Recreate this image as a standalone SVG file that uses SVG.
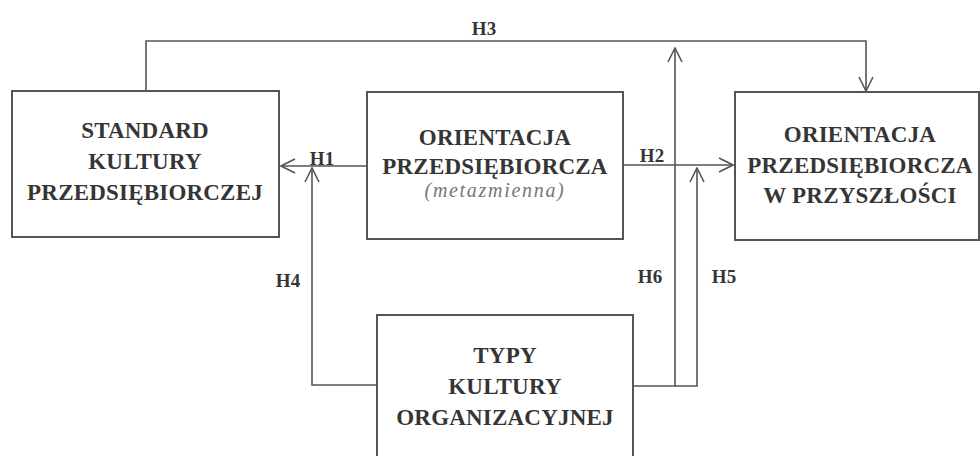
<svg xmlns="http://www.w3.org/2000/svg" width="980" height="456" viewBox="0 0 980 456">
<style>
.box{fill:#fff;stroke:#555;stroke-width:2}
.t{font-family:"Liberation Serif","Times New Roman",serif;font-weight:bold;font-size:23px;fill:#353535;text-anchor:middle;letter-spacing:0.2px}
.it{font-family:"Liberation Serif","Times New Roman",serif;font-style:italic;font-size:20px;fill:#777;text-anchor:middle;letter-spacing:1.7px}
.lbl{font-family:"Liberation Serif","Times New Roman",serif;font-weight:bold;font-size:19px;fill:#353535;text-anchor:middle}
.c{fill:none;stroke:#555;stroke-width:1.6}
</style>
<defs>
<marker id="ah" viewBox="0 0 16 16" refX="15" refY="8" markerWidth="16" markerHeight="16" markerUnits="userSpaceOnUse" orient="auto">
<path d="M1,1 L15,8 L1,15" fill="none" stroke="#555" stroke-width="1.6"/>
</marker>
</defs>
<rect width="980" height="456" fill="#fff"/>
<g id="connectors">
<path id="h3" class="c" d="M146,91 V41 H866 V91" marker-end="url(#ah)"/>
<path id="h1" class="c" d="M367,166 H281" marker-end="url(#ah)"/>
<path id="h2" class="c" d="M623,165 H733" marker-end="url(#ah)"/>
<path id="h4" class="c" d="M377,385 H312 V168" marker-end="url(#ah)"/>
<path id="h6" class="c" d="M633,386 H675 V48" marker-end="url(#ah)"/>
<path id="h5" class="c" d="M675,386 H697 V168" marker-end="url(#ah)"/>
</g>
<g id="labels">
<text class="lbl" x="322" y="165">H1</text>
<text class="lbl" x="652" y="162">H2</text>
<text class="lbl" x="484" y="35">H3</text>
<text class="lbl" x="288" y="287">H4</text>
<text class="lbl" x="650" y="283">H6</text>
<text class="lbl" x="724" y="283">H5</text>
</g>
<g id="standard">
<rect class="box" x="12" y="91" width="267" height="146"/>
<text class="t" x="145" y="138">STANDARD</text>
<text class="t" x="145" y="169">KULTURY</text>
<text class="t" x="145" y="200">PRZEDSIĘBIORCZEJ</text>
</g>
<g id="orientacja">
<rect class="box" x="367" y="92" width="256" height="147"/>
<text class="t" x="495" y="145">ORIENTACJA</text>
<text class="t" x="495" y="174">PRZEDSIĘBIORCZA</text>
<text class="it" x="495" y="197">(metazmienna)</text>
</g>
<g id="przyszlosc">
<rect class="box" x="735" y="92" width="244" height="148"/>
<text class="t" x="860" y="142">ORIENTACJA</text>
<text class="t" x="860" y="173">PRZEDSIĘBIORCZA</text>
<text class="t" x="860" y="203">W PRZYSZŁOŚCI</text>
</g>
<g id="typy">
<rect class="box" x="377" y="315" width="256" height="160"/>
<text class="t" x="505" y="363">TYPY</text>
<text class="t" x="505" y="394">KULTURY</text>
<text class="t" x="505" y="425">ORGANIZACYJNEJ</text>
</g>
</svg>
